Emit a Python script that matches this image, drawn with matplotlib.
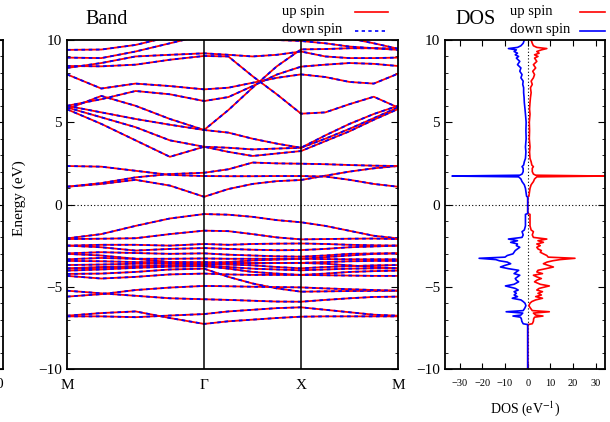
import matplotlib
matplotlib.use("Agg")
import matplotlib.pyplot as plt
from matplotlib.ticker import MultipleLocator
from matplotlib.lines import Line2D

plt.rcParams['font.family'] = ['Liberation Serif', 'DejaVu Serif']
plt.rcParams['mathtext.fontset'] = 'stix'

W, H = 610, 422

# k-path M - Gamma - X - M (square lattice, M-G = sqrt(2))
k_path = [0.0, 0.354, 0.707, 1.061, 1.414, 1.664, 1.914, 2.164, 2.414,
          2.664, 2.914, 3.164, 3.414]
k_ticks = [0.0, 1.414, 2.414, 3.414]
k_labels = ['M', 'Γ', 'X', 'M']

# band energies (eV) at each k point
cond_bands = [
    [1.08, 1.25, 1.50, 1.15, 0.47, 0.94, 1.25, 1.42, 1.49, 1.75, 2.00, 2.20, 2.34],
    [2.34, 2.30, 2.05, 1.80, 1.73, 1.72, 1.72, 1.73, 1.73, 1.70, 1.50, 1.25, 1.08],
    [1.08, 1.30, 1.65, 1.85, 1.93, 2.14, 2.55, 2.50, 2.48, 2.45, 2.40, 2.36, 2.34],
    [5.79, 4.90, 3.90, 2.90, 3.51, 3.45, 3.35, 3.40, 3.45, 4.00, 4.60, 5.25, 5.90],
    [5.90, 5.30, 4.70, 3.90, 3.51, 3.20, 2.95, 3.10, 3.25, 3.85, 4.45, 5.15, 5.80],
    [5.80, 6.60, 6.00, 5.20, 4.53, 4.37, 4.00, 3.70, 3.45, 4.20, 4.90, 5.50, 6.00],
    [6.00, 5.60, 5.20, 4.85, 4.53, 5.74, 7.10, 8.40, 9.43, 9.45, 9.50, 9.50, 9.47],
    [6.00, 6.40, 6.90, 6.70, 6.29, 6.53, 7.20, 7.90, 8.38, 8.50, 8.60, 8.55, 8.42],
    [7.91, 7.05, 7.35, 7.20, 7.00, 7.10, 7.40, 7.70, 7.91, 7.75, 7.45, 7.35, 7.95],
    [8.42, 8.40, 8.50, 8.80, 9.03, 9.00, 7.80, 6.70, 5.52, 5.60, 6.10, 6.55, 5.90],
    [8.30, 8.60, 9.00, 9.10, 9.19, 9.10, 9.00, 9.10, 9.30, 9.00, 8.90, 8.90, 8.93],
    [8.93, 8.90, 9.30, 9.80, 10.3, 10.2, 10.1, 10.0, 9.94, 9.80, 9.60, 9.50, 9.40],
    [9.40, 9.42, 9.70, 10.2, 10.8, 10.8, 10.7, 10.6, 10.5, 10.3, 10.1, 9.80, 9.47],
]
val_bands = [
    [-2.06, -1.80, -1.30, -0.85, -0.58, -0.62, -0.75, -0.95, -1.08, -1.30, -1.60, -1.90, -2.06],
    [-2.10, -2.08, -2.05, -1.80, -1.59, -1.62, -1.80, -2.00, -2.12, -2.10, -2.08, -2.07, -2.10],
    [-2.50, -2.45, -2.45, -2.50, -2.40, -2.45, -2.40, -2.38, -2.37, -2.40, -2.45, -2.48, -2.50],
    [-2.50, -2.60, -2.80, -2.70, -2.65, -2.70, -2.75, -2.78, -2.77, -2.70, -2.60, -2.55, -2.50],
    [-2.97, -2.90, -2.95, -3.00, -2.97, -3.05, -3.10, -3.15, -3.17, -3.10, -3.00, -2.98, -2.97],
    [-3.00, -3.10, -3.30, -3.50, -3.60, -3.50, -3.40, -3.35, -3.30, -3.20, -3.10, -3.00, -2.97],
    [-3.33, -3.25, -3.30, -3.30, -3.28, -3.30, -3.30, -3.30, -3.30, -3.32, -3.33, -3.33, -3.33],
    [-3.43, -3.45, -3.50, -3.50, -3.50, -3.52, -3.55, -3.55, -3.55, -3.50, -3.45, -3.43, -3.43],
    [-3.68, -3.65, -3.60, -3.60, -3.60, -3.65, -3.70, -3.80, -3.88, -3.80, -3.75, -3.70, -3.68],
    [-3.88, -3.80, -3.75, -3.72, -3.70, -3.80, -3.90, -3.95, -4.00, -3.95, -3.90, -3.88, -3.88],
    [-3.90, -3.85, -3.80, -3.70, -3.65, -3.60, -3.58, -3.56, -3.55, -3.60, -3.70, -3.80, -3.88],
    [-4.02, -3.95, -3.85, -3.78, -3.75, -3.90, -4.10, -4.20, -4.28, -4.20, -4.10, -4.05, -4.02],
    [-4.22, -4.20, -4.10, -3.95, -3.90, -4.40, -4.80, -5.10, -5.30, -5.28, -5.26, -5.25, -5.24],
    [-4.34, -4.50, -4.40, -4.25, -4.20, -4.25, -4.28, -4.28, -4.28, -4.30, -4.32, -4.34, -4.34],
    [-5.24, -5.40, -5.55, -5.70, -5.76, -5.80, -5.85, -5.90, -5.91, -5.80, -5.70, -5.62, -5.60],
    [-5.60, -5.45, -5.20, -5.05, -4.95, -4.97, -5.00, -5.02, -5.04, -5.10, -5.15, -5.20, -5.24],
    [-6.76, -6.60, -6.50, -6.90, -7.26, -7.10, -7.00, -6.90, -6.82, -6.80, -6.80, -6.80, -6.80],
    [-6.80, -6.80, -6.85, -6.75, -6.66, -6.50, -6.40, -6.30, -6.25, -6.40, -6.55, -6.70, -6.76],
]

# density of states (states/eV), up spin and down spin magnitudes
dos_energy = [-10.0, -7.30, -7.25, -7.10, -6.95, -6.85, -6.78, -6.72, -6.60, -6.52,
              -6.45, -6.30, -6.15, -6.00, -5.90, -5.80, -5.70, -5.60, -5.50, -5.40,
              -5.30, -5.20, -5.10, -4.95, -4.85, -4.70, -4.60, -4.50, -4.40, -4.30,
              -4.20, -4.10, -4.00, -3.90, -3.80, -3.70, -3.60, -3.50, -3.42, -3.35,
              -3.27, -3.20, -3.10, -3.00, -2.90, -2.80, -2.70, -2.60, -2.50, -2.40,
              -2.30, -2.20, -2.10, -2.00, -1.85, -1.65, -1.55, -1.30, -0.90, -0.60,
              -0.55, 0.45, 0.50, 0.98, 1.20, 1.39, 1.55, 1.68, 1.73, 1.78,
              1.85, 2.00, 2.20, 2.30, 2.40, 2.60, 2.80, 3.20, 3.50, 4.00,
              4.50, 5.00, 5.50, 5.80, 6.20, 6.50, 6.80, 7.10, 7.30, 7.50,
              7.70, 7.90, 8.10, 8.30, 8.50, 8.70, 8.90, 9.00, 9.10, 9.20,
              9.30, 9.40, 9.48, 9.55, 9.65, 9.80, 10.0]
dos_up = [0.0, 0.0, 2.0, 2.5, 2.6, 3.0, 6.7, 3.5, 2.5, 9.5,
          2.0, 1.2, 0.5, 1.0, 1.8, 3.5, 6.5, 3.5, 6.0, 4.5,
          6.5, 4.0, 5.0, 9.5, 5.5, 3.0, 4.0, 6.0, 4.0, 2.5,
          6.5, 4.0, 4.5, 8.0, 11.3, 9.0, 6.9, 8.5, 11.0, 14.2,
          20.8, 9.0, 8.4, 6.9, 5.5, 6.0, 4.5, 4.0, 5.5, 4.0,
          6.9, 4.5, 8.4, 2.5, 2.0, 2.5, 1.5, 1.0, 1.0, 1.0,
          0.0, 0.0, 0.5, 1.0, 1.5, 2.5, 3.0, 4.0, 34.0, 3.5,
          2.5, 2.0, 2.0, 2.5, 1.8, 1.5, 1.0, 0.8, 1.0, 0.7,
          0.8, 0.7, 1.0, 0.8, 1.0, 1.2, 1.5, 1.2, 2.0, 1.5,
          2.5, 3.0, 2.2, 3.5, 2.5, 4.0, 3.0, 4.5, 3.0, 5.0,
          4.0, 6.0, 8.4, 4.0, 2.5, 2.0, 1.5]
dos_down = [0.0, 0.0, 2.0, 2.6, 2.8, 3.2, 6.5, 3.0, 2.2, 9.5,
            2.0, 1.3, 0.8, 1.2, 2.0, 3.0, 6.8, 4.5, 6.0, 5.0,
            6.0, 4.2, 5.5, 9.8, 6.0, 4.0, 5.0, 5.5, 4.5, 3.5,
            6.0, 5.0, 4.0, 8.5, 12.0, 10.0, 7.5, 9.0, 12.5, 14.0,
            21.4, 10.0, 9.0, 6.5, 6.0, 5.5, 4.5, 3.5, 5.0, 4.5,
            7.5, 4.5, 8.5, 2.5, 2.0, 2.5, 1.5, 1.0, 1.0, 1.0,
            0.0, 0.0, 0.5, 1.0, 1.5, 2.5, 3.0, 4.0, 33.3, 3.5,
            2.5, 2.0, 2.0, 2.5, 1.8, 1.5, 1.0, 0.8, 1.0, 0.7,
            0.8, 0.7, 1.0, 1.2, 1.5, 1.6, 1.8, 1.8, 2.2, 2.0,
            3.0, 2.5, 3.5, 3.0, 4.5, 3.5, 5.0, 4.0, 5.5, 4.5,
            6.0, 5.0, 8.5, 4.5, 3.0, 2.0, 1.5]


def rect(x0, y0, x1, y1):
    return [x0 / W, 1 - y1 / H, (x1 - x0) / W, (y1 - y0) / H]


fig = plt.figure(figsize=(W / 100, H / 100), dpi=100)
ax = fig.add_axes(rect(67, 40, 398, 369))
axd = fig.add_axes(rect(445, 40, 605, 369))
axl = fig.add_axes(rect(-250, 40, 3, 369))  # edge of a neighbouring panel

red = '#ff0000'
blue = '#0000ff'

# ---- band structure ----
for b in cond_bands + val_bands:
    ax.plot(k_path, b, color=red, lw=1.3, solid_capstyle='butt')
    ax.plot(k_path, b, color=blue, lw=1.3, dashes=(2, 2))
for kx in k_ticks[1:-1]:
    ax.axvline(kx, color='k', lw=1.1)
ax.axhline(0, color='k', lw=0.8, ls=(0, (1, 2)))
ax.set_xlim(0, 3.414)
ax.set_ylim(-10, 10)
ax.set_xticks(k_ticks)
ax.set_xticklabels(k_labels, fontsize=11)
ax.set_yticks([-10, -5, 0, 5, 10])
ax.yaxis.set_minor_locator(MultipleLocator(1))
ax.tick_params(axis='y', which='both', direction='in', right=True, labelsize=11)
ax.tick_params(axis='y', which='major', length=5)
ax.tick_params(axis='y', which='minor', length=2.5)
ax.tick_params(axis='x', length=0, pad=7)

# ---- DOS ----
axd.plot(dos_up, dos_energy, color=red, lw=1.2)
axd.plot([-v for v in dos_down], dos_energy, color=blue, lw=1.2)
axd.axhline(0, color='k', lw=0.8, ls=(0, (1, 2)))
axd.axvline(0, color='k', lw=0.8, ls=(0, (1, 2)), zorder=0)
axd.set_xlim(-36.4, 34.0)
axd.set_ylim(-10, 10)
axd.set_xticks([-30, -20, -10, 0, 10, 20, 30])
axd.set_yticks([-10, -5, 0, 5, 10])
axd.yaxis.set_minor_locator(MultipleLocator(1))
axd.tick_params(axis='both', which='both', direction='in', right=True, top=True)
axd.tick_params(axis='y', which='major', length=5, labelsize=11)
axd.tick_params(axis='y', which='minor', length=2.5)
axd.tick_params(axis='x', length=4, labelsize=7.5, pad=7)
axd.set_xlabel('DOS (eV$^{-1}$)', fontsize=10, labelpad=8)

# ---- partial neighbouring panel on the left edge ----
axl.set_xlim(0, 1)
axl.set_ylim(-10, 10)
axl.set_xticks([])
axl.set_yticks([-10, -5, 0, 5, 10])
axl.yaxis.set_minor_locator(MultipleLocator(1))
axl.tick_params(axis='y', which='both', direction='in', right=True, left=False,
                labelleft=False)
axl.tick_params(axis='y', which='major', length=5)
axl.tick_params(axis='y', which='minor', length=2.5)

for a in (ax, axd, axl):
    for s in a.spines.values():
        s.set_linewidth(1.3)

fig.text(-1 / W, 1 - 384 / H, '0', fontsize=11, ha='center', va='center')
fig.text(19 / W, 1 - 198 / H, 'Energy (eV)', fontsize=11, rotation=90,
         ha='center', va='center')

# titles
fig.text(85 / W, 1 - 20 / H, 'Band', fontsize=14.5, ha='left', va='center')
fig.text(455 / W, 1 - 20 / H, 'DOS', fontsize=14.5, ha='left', va='center')

# legends
def legend_row(x_text, x0, x1, y, label, **kw):
    fig.text(x_text / W, 1 - y / H, label, fontsize=10.5, ha='left', va='center')
    fig.add_artist(Line2D([x0 / W, x1 / W], [1 - (y + 1) / H, 1 - (y + 1) / H],
                          transform=fig.transFigure, lw=1.2, **kw))

legend_row(282, 355, 388, 11, 'up spin', color=red)
legend_row(282, 355, 388, 30, 'down spin', color=blue, dashes=(2, 2))
legend_row(510, 580, 605, 11, 'up spin', color=red)
legend_row(510, 580, 605, 30, 'down spin', color=blue)

fig.savefig('out.png', dpi=100)
